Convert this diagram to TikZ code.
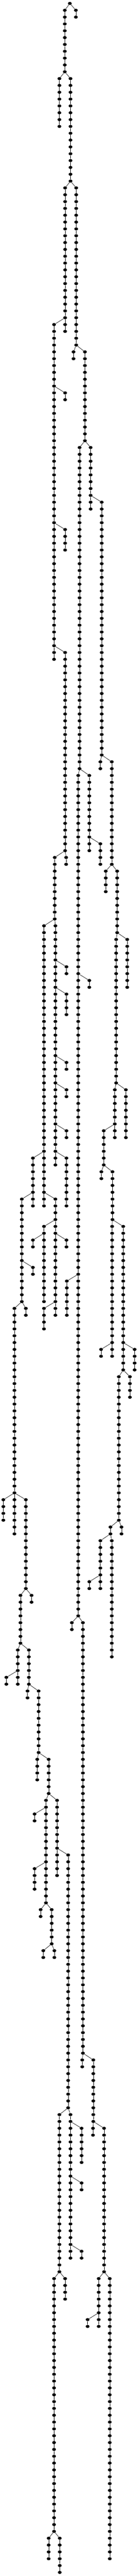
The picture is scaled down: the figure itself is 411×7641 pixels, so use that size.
\documentclass[tikz,border=0pt]{standalone}
\usetikzlibrary{shapes.geometric}
\tikzset{
  leaf/.style={ellipse, fill=black, inner sep=0pt, minimum width=5.7pt, minimum height=4.6pt},
  link/.style={line width=0.5pt}
}
% chains: column x / first rank / last rank / x of parent column
\def\chains{226/1/2/208, 193/1/10/208, 177/11/18/193, 210/11/26/193,
 194/27/48/210, 227/27/50/210, 161/47/96/194, 194/57/58/161, 219/51/52/227,
 253/51/64/227, 194/77/80/161, 237/65/112/253, 270/65/74/253, 303/73/110/270,
 194/95/124/161, 233/113/236/237, 266/113/124/237, 299/123/126/266,
 299/111/112/303, 333/111/126/303, 163/125/134/194, 197/125/126/194,
 266/143/144/233, 315/127/130/333, 349/127/136/333, 379/137/144/349,
 346/137/158/349, 131/135/176/163, 165/135/170/163, 198/141/142/165,
 198/145/148/165, 198/155/156/165, 198/159/160/165, 198/165/166/165,
 198/169/176/165, 98/169/176/131, 65/175/190/98, 98/185/186/65,
 165/175/192/131, 131/179/190/165, 198/181/182/165, 98/181/182/131,
 199/187/192/233, 375/159/166/346, 342/159/166/346, 309/165/170/342,
 302/171/172/309, 335/171/178/309, 334/179/198/335, 367/179/200/335,
 43/191/224/65, 77/191/192/65, 131/191/194/165, 301/197/198/334,
 401/197/200/367, 354/201/222/367, 387/201/204/367, 10/219/222/43,
 77/219/232/43, 61/233/240/77, 94/233/234/77, 53/241/246/61, 86/241/246/61,
 19/245/246/53, 82/247/248/86, 115/247/256/86, 214/237/238/233,
 247/237/300/233, 329/223/224/354, 362/223/224/354, 299/225/232/329,
 333/225/242/329, 266/231/232/299, 111/257/260/115, 145/257/262/115,
 137/263/278/145, 170/263/274/145, 103/265/266/137, 103/273/276/137,
 121/279/280/137, 154/279/284/137, 203/271/308/170, 129/285/286/154,
 162/285/286/154, 245/301/302/247, 278/301/310/247, 177/309/332/203,
 210/309/330/203, 243/311/316/210, 277/311/312/278, 310/311/332/278,
 243/319/320/210, 243/329/330/210, 161/333/370/177, 194/333/336/177,
 294/333/340/310, 327/333/374/310, 261/339/340/294, 145/371/374/161,
 178/371/376/161}
\begin{document}
\begin{tikzpicture}[x=0.5pt,y=-0.5pt]
\useasboundingbox (0,0) rectangle (411,7641);
%nodes
\node[leaf] (n208-0) at (208,10.2) {};
\foreach \cx/\rfrom/\rto/\pcx in \chains
  \foreach \rk in {\rfrom,...,\rto}
    \node[leaf] (n\cx-\rk) at (\cx,{10.2+20.266*\rk}) {};
%edges
\foreach \cx/\rfrom/\rto/\pcx in \chains {
  \pgfmathtruncatemacro\rup{\rfrom-1}
  \pgfmathtruncatemacro\rnext{\rfrom+1}
  \draw[link] (n\pcx-\rup) -- (n\cx-\rfrom);
  \foreach \rk [count=\rprev from \rfrom] in {\rnext,...,\rto}
    \draw[link] (n\cx-\rprev) -- (n\cx-\rk);
}
\end{tikzpicture}
\end{document}
